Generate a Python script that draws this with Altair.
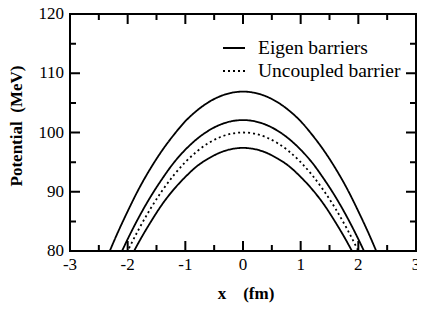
import altair as alt
import pandas as pd

# ---- data ----
x_fm = [-2.4, -2.2, -2.0, -1.8, -1.6, -1.4, -1.2, -1.0, -0.8, -0.6, -0.4, -0.2, 0.0,
        0.2, 0.4, 0.6, 0.8, 1.0, 1.2, 1.4, 1.6, 1.8, 2.0, 2.2, 2.4]

eigen_upper = [77.9, 82.5, 86.7, 90.6, 94.0, 97.0, 99.6, 101.9, 103.7, 105.1, 106.1, 106.7, 106.9,
               106.7, 106.1, 105.1, 103.7, 101.9, 99.6, 97.0, 94.0, 90.6, 86.7, 82.5, 77.9]
eigen_middle = [73.1, 77.8, 82.0, 85.8, 89.2, 92.2, 94.9, 97.1, 98.9, 100.3, 101.3, 101.9, 102.1,
                101.9, 101.3, 100.3, 98.9, 97.1, 94.9, 92.2, 89.2, 85.8, 82.0, 77.8, 73.1]
uncoupled = [71.2, 75.8, 80.0, 83.8, 87.2, 90.2, 92.8, 95.0, 96.8, 98.2, 99.2, 99.8, 100.0,
             99.8, 99.2, 98.2, 96.8, 95.0, 92.8, 90.2, 87.2, 83.8, 80.0, 75.8, 71.2]
eigen_lower = [69.3, 73.8, 77.9, 81.6, 84.9, 87.9, 90.4, 92.5, 94.3, 95.6, 96.6, 97.2, 97.4,
               97.2, 96.6, 95.6, 94.3, 92.5, 90.4, 87.9, 84.9, 81.6, 77.9, 73.8, 69.3]

curve_names = ["eigen_upper", "eigen_middle", "uncoupled", "eigen_lower"]
curve_kinds = ["Eigen barriers", "Eigen barriers", "Uncoupled barrier", "Eigen barriers"]
curve_values = [eigen_upper, eigen_middle, uncoupled, eigen_lower]

legend_labels = ["Eigen barriers", "Uncoupled barrier"]

x_major = [-3, -2, -1, 0, 1, 2, 3]
x_major_labels = ["-3", "-2", "-1", "0", "1", "2", "3"]
x_minor = [-2.5, -1.5, -0.5, 0.5, 1.5, 2.5]
y_major = [80, 90, 100, 110, 120]
y_major_labels = ["80", "90", "100", "110", "120"]
y_minor = [85, 95, 105, 115]

x_title = "x\u00a0\u00a0\u00a0\u00a0(fm)"
y_title = "Potential\u00a0\u00a0(MeV)"

FONT = "Liberation Serif"
W, H = 346, 237
X_MIN, X_MAX = -3, 3
Y_MIN, Y_MAX = 80, 120
MAJOR_PX, MINOR_PX = 10, 6

rows = []
for name, kind, ys in zip(curve_names, curve_kinds, curve_values):
    for xv, yv in zip(x_fm, ys):
        rows.append({"x": xv, "V": yv, "curve": name, "kind": kind})
df = pd.DataFrame(rows)

# inward tick marks: one comb-shaped path per frame side, following the tick arrays
y_per_px = (Y_MAX - Y_MIN) / H
x_per_px = (X_MAX - X_MIN) / W
comb_rows = []


def add_comb(side, positions, along_x, edge, sign):
    idx = 0
    for v, px in positions:
        if along_x:
            pts = [(v, edge), (v, edge + sign * px * y_per_px), (v, edge)]
        else:
            pts = [(edge, v), (edge + sign * px * x_per_px, v), (edge, v)]
        for px_, py_ in pts:
            comb_rows.append({"x": px_, "V": py_, "side": side, "k": idx})
            idx += 1


x_ticks_all = sorted([(v, MAJOR_PX) for v in x_major] + [(v, MINOR_PX) for v in x_minor])
y_ticks_all = sorted([(v, MAJOR_PX) for v in y_major] + [(v, MINOR_PX) for v in y_minor])
add_comb("bottom", x_ticks_all, True, Y_MIN, 1)
add_comb("top", x_ticks_all, True, Y_MAX, -1)
add_comb("left", y_ticks_all, False, X_MIN, 1)
add_comb("right", y_ticks_all, False, X_MAX, -1)
comb_df = pd.DataFrame(comb_rows)

xscale = alt.Scale(domain=[X_MIN, X_MAX], nice=False, zero=False)
yscale = alt.Scale(domain=[Y_MIN, Y_MAX], nice=False, zero=False)

lines = alt.Chart(df).mark_line(clip=True, strokeWidth=1.8, color="black",
                                 interpolate="monotone").encode(
    x=alt.X("x:Q", scale=xscale, axis=None),
    y=alt.Y("V:Q", scale=yscale, axis=None),
    strokeDash=alt.StrokeDash("kind:N",
                              scale=alt.Scale(domain=legend_labels, range=[[1, 0], [2, 3]]),
                              legend=alt.Legend(title=None, orient="none", legendX=152,
                                                legendY=22, symbolType="stroke",
                                                symbolSize=484, symbolStrokeWidth=1.8,
                                                symbolStrokeColor="black",
                                                labelFont=FONT, labelFontSize=19.5,
                                                labelColor="black", labelOffset=12,
                                                rowPadding=1, padding=0)),
    detail="curve:N",
)

ticks = alt.Chart(comb_df).mark_line(strokeWidth=2, color="black",
                                      interpolate="linear").encode(
    x=alt.X("x:Q", scale=xscale, axis=None),
    y=alt.Y("V:Q", scale=yscale, axis=None),
    detail="side:N",
    order="k:Q",
)

x_labels = alt.Chart(pd.DataFrame({"v": x_major, "t": x_major_labels})).mark_text(
    font=FONT, fontSize=17, color="black", baseline="middle", align="center"
).encode(x=alt.X("v:Q", scale=xscale, axis=None), y=alt.value(H + 14), text="t:N")

y_labels = alt.Chart(pd.DataFrame({"v": y_major, "t": y_major_labels})).mark_text(
    font=FONT, fontSize=17, color="black", baseline="middle", align="right"
).encode(y=alt.Y("v:Q", scale=yscale, axis=None), x=alt.value(-6), text="t:N")

x_title_mark = alt.Chart(pd.DataFrame({"t": [x_title]})).mark_text(
    font=FONT, fontSize=17, fontWeight="bold", color="black", baseline="middle",
    align="center"
).encode(x=alt.value(176), y=alt.value(280), text="t:N")

y_title_mark = alt.Chart(pd.DataFrame({"t": [y_title]})).mark_text(
    font=FONT, fontSize=17, fontWeight="bold", color="black", baseline="middle",
    align="center", angle=270
).encode(x=alt.value(-53), y=alt.value(112), text="t:N")

chart = alt.layer(
    lines, x_labels, y_labels, x_title_mark, y_title_mark, ticks,
).properties(
    width=W, height=H,
    autosize=alt.AutoSizeParams(type="none"),
    padding={"left": 62, "top": 6, "right": 1, "bottom": 52},
    background="white",
).configure_view(stroke="black", strokeWidth=2)

chart.save("out.html", embed_options={"renderer": "svg", "actions": False})
